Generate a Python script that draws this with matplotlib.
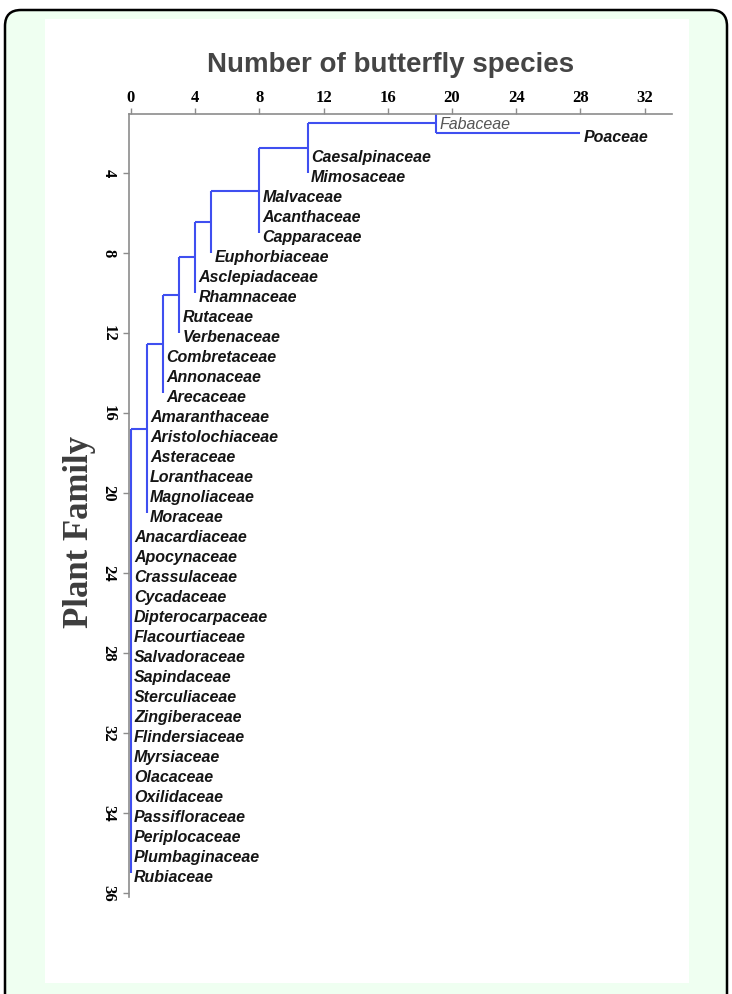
import numpy as np
import matplotlib
matplotlib.use("Agg")
import matplotlib.pyplot as plt
from matplotlib.patches import FancyBboxPatch, Rectangle

# plant families, top to bottom, and the number of butterfly species on each
families = [
    "Fabaceae", "Poaceae", "Caesalpinaceae", "Mimosaceae", "Malvaceae",
    "Acanthaceae", "Capparaceae", "Euphorbiaceae", "Asclepiadaceae",
    "Rhamnaceae", "Rutaceae", "Verbenaceae", "Combretaceae", "Annonaceae",
    "Arecaceae", "Amaranthaceae", "Aristolochiaceae", "Asteraceae",
    "Loranthaceae", "Magnoliaceae", "Moraceae", "Anacardiaceae",
    "Apocynaceae", "Crassulaceae", "Cycadaceae", "Dipterocarpaceae",
    "Flacourtiaceae", "Salvadoraceae", "Sapindaceae", "Sterculiaceae",
    "Zingiberaceae", "Flindersiaceae", "Myrsiaceae", "Olacaceae",
    "Oxilidaceae", "Passifloraceae", "Periplocaceae", "Plumbaginaceae",
    "Rubiaceae",
]
species = [19, 28, 11, 11, 8, 8, 8, 5, 4, 4, 3, 3, 2, 2, 2,
           1, 1, 1, 1, 1, 1,
           0, 0, 0, 0, 0, 0, 0, 0, 0, 0, 0, 0, 0, 0, 0, 0, 0, 0]

x_ticks = [0, 4, 8, 12, 16, 20, 24, 28, 32]
y_ticks = [4, 8, 12, 16, 20, 24, 28, 32, 36, 40]
y_tick_labels = ["4", "8", "12", "16", "20", "24", "28", "32", "34", "36"]

LINE = "#3f4ff0"
GREY = "#8c8c8c"

W, H = 732, 994
fig = plt.figure(figsize=(W / 100, H / 100), dpi=100)
fig.patch.set_facecolor("white")

# framed panel behind the chart (inches)
frame = FancyBboxPatch((0.05, -0.2), 7.22, 10.04,
                       boxstyle="round,pad=0,rounding_size=0.16",
                       transform=fig.dpi_scale_trans, facecolor="#effff1",
                       edgecolor="black", linewidth=1.8, zorder=-2)
fig.patches.append(frame)
fig.patches.append(Rectangle((45 / W, 1 - 983 / H), 644 / W, 964 / H,
                             transform=fig.transFigure, facecolor="white",
                             edgecolor="none", zorder=-1))

ax = fig.add_axes([129 / W, 1 - 897 / H, 543 / W, 783 / H])
ax.patch.set_visible(False)
ax.set_xlim(-0.12, 33.7)
ax.set_ylim(40.2, 1.05)

leaf_y = np.arange(1, len(families) + 1)
kw = dict(color=LINE, lw=1.5, solid_capstyle="butt")

# Poaceae hangs off the Fabaceae branch
ax.plot([species[0], species[1]], [leaf_y[1]] * 2, **kw)
ax.plot([species[0]] * 2, [leaf_y[0], leaf_y[1]], **kw)
join = (leaf_y[0] + leaf_y[1]) / 2
prev_x = species[0]

# remaining families form a ladder of groups with equal counts
i = 2
while i < len(families):
    j = i
    while j + 1 < len(families) and species[j + 1] == species[i]:
        j += 1
    x = species[i]
    ax.plot([x, prev_x], [join, join], **kw)
    ax.plot([x, x], [join, leaf_y[j]], **kw)
    join = (join + leaf_y[j]) / 2
    prev_x = x
    i = j + 1

for k, (name, n) in enumerate(zip(families, species)):
    if k == 0:
        ax.text(n + 0.2, leaf_y[k] + 0.55, name, fontsize=11.5,
                style="italic", color="#555555", va="center",
                family="Liberation Sans")
    else:
        ax.text(n + 0.2, leaf_y[k] + 0.2, name, fontsize=11.5,
                style="italic", fontweight="bold", color="#151515",
                va="center", family="Liberation Sans")

for s in ["right", "bottom"]:
    ax.spines[s].set_visible(False)
for s in ["left", "top"]:
    ax.spines[s].set_color(GREY)
    ax.spines[s].set_linewidth(1.2)

ax.xaxis.tick_top()
ax.set_xticks(x_ticks)
ax.set_xticklabels([str(t) for t in x_ticks], fontsize=12,
                   fontweight="bold", family="Liberation Serif")
ax.set_yticks(y_ticks)
ax.set_yticklabels(y_tick_labels, fontsize=12, fontweight="bold",
                   family="Liberation Serif", rotation=270, va="center")
ax.tick_params(axis="x", length=4, width=1, color=GREY, pad=2)
ax.tick_params(axis="y", length=4, width=1, color=GREY, pad=5)

fig.text(391 / W, 1 - 72 / H, "Number of butterfly species", fontsize=20,
         fontweight="bold", color="#454545", ha="center", va="baseline",
         family="Liberation Sans")
fig.text(80 / W, 1 - 532 / H, "Plant Family", fontsize=25,
         fontweight="bold", color="#3d3d3d", ha="center", va="center",
         rotation=90, family="Liberation Serif")

fig.savefig("out.png", dpi=100)
